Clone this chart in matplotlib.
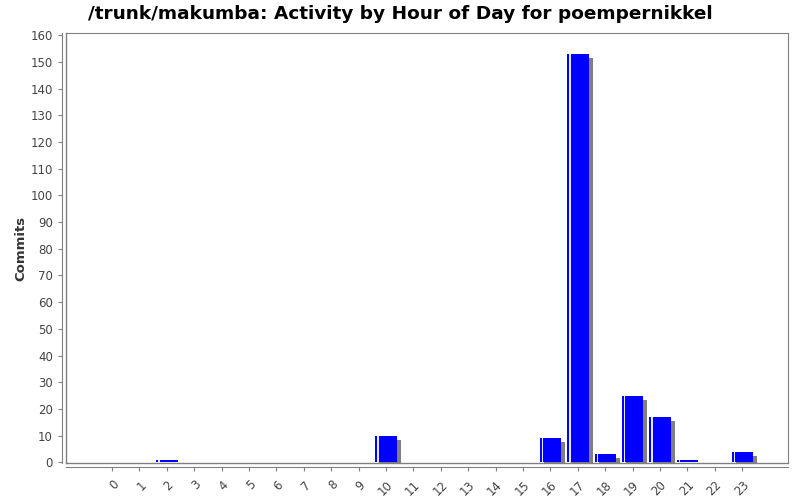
import matplotlib

matplotlib.use("Agg")

import matplotlib.pyplot as plt
import matplotlib.transforms as mtransforms
import numpy as np

hours = [str(h) for h in range(24)]
commits = [0, 0, 1, 0, 0, 0, 0, 0, 0, 0, 10, 0, 0, 0, 0, 0, 9, 153, 3, 25, 17, 1, 0, 4]

title = "/trunk/makumba: Activity by Hour of Day for poempernikkel"

fig = plt.figure(figsize=(8, 5), dpi=100)
ax = fig.add_axes([66 / 800, 1 - 463 / 500, (788 - 66) / 800, (463 - 33) / 500])

x = np.arange(len(hours))
vals = np.array(commits, dtype=float)
width = 0.78

# ombre grise décalée de 4 px
shadow = mtransforms.offset_copy(ax.transData, fig=fig, x=4, y=-4, units="dots")
ax.bar(x, vals, width=width, color="#808080", linewidth=0, transform=shadow, zorder=1)
ax.bar(x, vals, width=width, color="#0000ff", linewidth=0, zorder=2)
# reflet blanc près du bord gauche
ax.bar(x - width / 2 + 0.075, vals, width=0.05, align="edge",
       color="#e8e8ff", linewidth=0, zorder=3)

ax.set_xlim(-1.68, 24.67)
ax.set_ylim(-0.26, 160.8)
ax.set_xticks(x)
ax.set_yticks(np.arange(0, 161, 10))

for side in ["top", "right"]:
    ax.spines[side].set_color("#808080")
for side in ["left", "bottom"]:
    ax.spines[side].set_position(("outward", 2.9))
    ax.spines[side].set_color("#808080")

# cadre de la zone de tracé
ax.plot([0, 0], [0, 1], transform=ax.transAxes, color="#808080", lw=1, clip_on=False, zorder=5)
ax.plot([0, 1], [0, 0], transform=ax.transAxes, color="#808080", lw=1, clip_on=False, zorder=5)

ax.tick_params(axis="both", colors="#808080", labelcolor="#444444", labelsize=8.5, length=3)
ax.set_xticklabels(hours)
for lab in ax.get_xticklabels():
    lab.set_rotation(45)
    lab.set_ha("right")
    lab.set_va("top")
    lab.set_rotation_mode("anchor")
ax.tick_params(axis="x", pad=5)

ax.set_ylabel("Commits", fontsize=9.5, fontweight="bold", color="#333333", labelpad=2.5)
fig.text(0.5, 0.99, title, ha="center", va="top", fontsize=13.3, fontweight="bold")

fig.savefig("out.png", dpi=100)
